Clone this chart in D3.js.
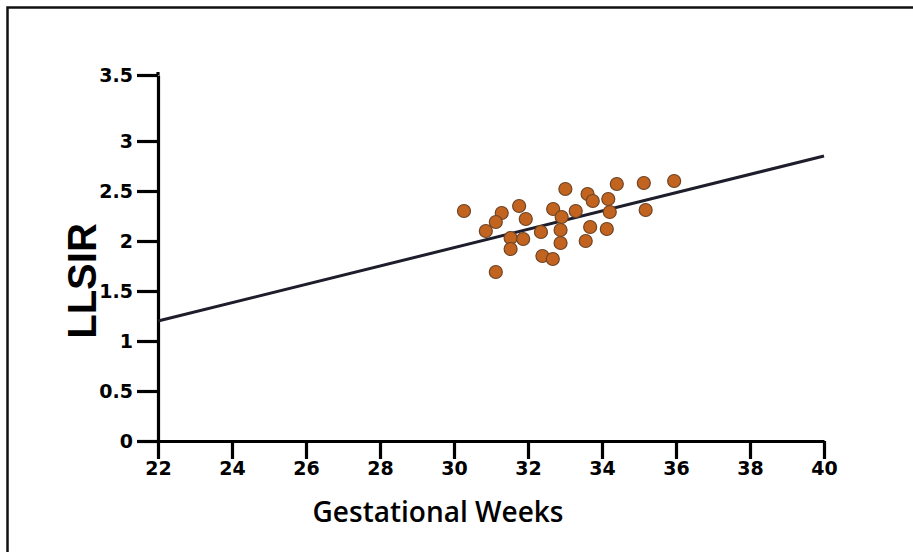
<!DOCTYPE html>
<html>
<head>
<meta charset="utf-8">
<script src="https://cdn.jsdelivr.net/npm/d3@7"></script>
<style>
  body { margin: 0; background: #fff; }
  svg { display: block; }
</style>
</head>
<body>
<div id="chart"></div>
<script>
"use strict";

// gestational week and LLSIR of each point
const weeks = [30.27, 31.29, 31.13, 30.86, 31.76, 31.94, 31.53, 31.87, 31.53, 31.13,
               32.35, 32.39, 32.67, 32.68, 33.01, 32.91, 32.88, 32.88, 33.29, 33.61,
               33.75, 33.56, 33.68, 34.17, 34.21, 34.13, 34.40, 35.13, 35.18, 35.95];
const llsir = [2.30, 2.28, 2.19, 2.10, 2.35, 2.22, 2.03, 2.02, 1.92, 1.69,
               2.09, 1.85, 1.82, 2.32, 2.52, 2.24, 2.11, 1.98, 2.30, 2.47,
               2.40, 2.00, 2.14, 2.42, 2.29, 2.12, 2.57, 2.58, 2.31, 2.60];

// fitted line end points
const fitWeeks = [22, 40];
const fitLlsir = [1.2, 2.85];

const xTicks = [22, 24, 26, 28, 30, 32, 34, 36, 38, 40];
const yTicks = [0, 0.5, 1, 1.5, 2, 2.5, 3, 3.5];
const yTickLabels = ["0", "0.5", "1", "1.5", "2", "2.5", "3", "3.5"];

const msm = { width: 913, height: 552 };

const svg = d3.select("#chart")
  .append("svg")
  .attr("width", msm.width)
  .attr("height", msm.height);

// frame around the figure
svg.append("rect")
  .attr("x", 7.5)
  .attr("y", 7.5)
  .attr("width", 920)
  .attr("height", 560)
  .attr("fill", "none")
  .attr("stroke", "#111")
  .attr("stroke-width", 2.5);

let xScale = d3.scaleLinear()
  .domain([22, 40])
  .range([158, 824]);

// the drawn axis has a taller gap between 3 and 3.5
let yScale = d3.scaleLinear()
  .domain([0, 3, 3.5])
  .range([441, 141, 75]);

let xAxis = d3.axisBottom(xScale)
  .tickValues(xTicks)
  .tickSize(18)
  .tickSizeOuter(0)
  .tickPadding(3)
  .tickFormat(d3.format("d"));

let yAxis = d3.axisLeft(yScale)
  .tickValues(yTicks)
  .tickSize(21)
  .tickSizeOuter(0)
  .tickPadding(4)
  .tickFormat((d, i) => yTickLabels[i]);

let gx = svg.append("g")
  .attr("transform", "translate(0, 441)")
  .call(xAxis);

let gy = svg.append("g")
  .attr("transform", "translate(158, 0)")
  .call(yAxis);

[gx, gy].forEach(g => {
  g.select(".domain").attr("stroke", "#000").attr("stroke-width", 3.2);
  g.selectAll(".tick line").attr("stroke", "#000").attr("stroke-width", 3.2);
  g.selectAll(".tick text")
    .attr("fill", "#000")
    .style("font-family", "'DejaVu Sans', sans-serif")
    .style("font-weight", "bold")
    .style("font-size", "19px");
});
gy.selectAll(".tick text").attr("dy", "0.35em");

// extend y-axis a little above the top tick
gy.append("line")
  .attr("x1", 0).attr("x2", 0)
  .attr("y1", yScale(3.5) - 3).attr("y2", yScale(3.5))
  .attr("stroke", "#000").attr("stroke-width", 3.2);

// regression line
svg.append("path")
  .datum(fitWeeks.map((w, i) => [w, fitLlsir[i]]))
  .attr("fill", "none")
  .attr("stroke", "#1d1d2b")
  .attr("stroke-width", 3)
  .attr("d", d3.line()
    .x(d => xScale(d[0]))
    .y(d => yScale(d[1])));

// data points
svg.selectAll(".dot")
  .data(weeks.map((w, i) => ({ week: w, value: llsir[i] })))
  .enter()
  .append("circle")
  .attr("class", "dot")
  .attr("cx", d => xScale(d.week))
  .attr("cy", d => yScale(d.value))
  .attr("r", 6.5)
  .attr("fill", "#c2641f")
  .attr("stroke", "#6e4426")
  .attr("stroke-width", 1.2);

// axis titles
svg.append("text")
  .attr("x", 438)
  .attr("y", 522)
  .attr("text-anchor", "middle")
  .style("font-family", "'Open Sans', sans-serif")
  .style("font-weight", 600)
  .style("font-size", "28px")
  .text("Gestational Weeks");

svg.append("text")
  .attr("transform", "translate(96, 281)rotate(-90)")
  .attr("text-anchor", "middle")
  .style("font-family", "'Liberation Sans', sans-serif")
  .style("font-weight", "bold")
  .style("font-size", "40px")
  .text("LLSIR");
</script>
</body>
</html>
